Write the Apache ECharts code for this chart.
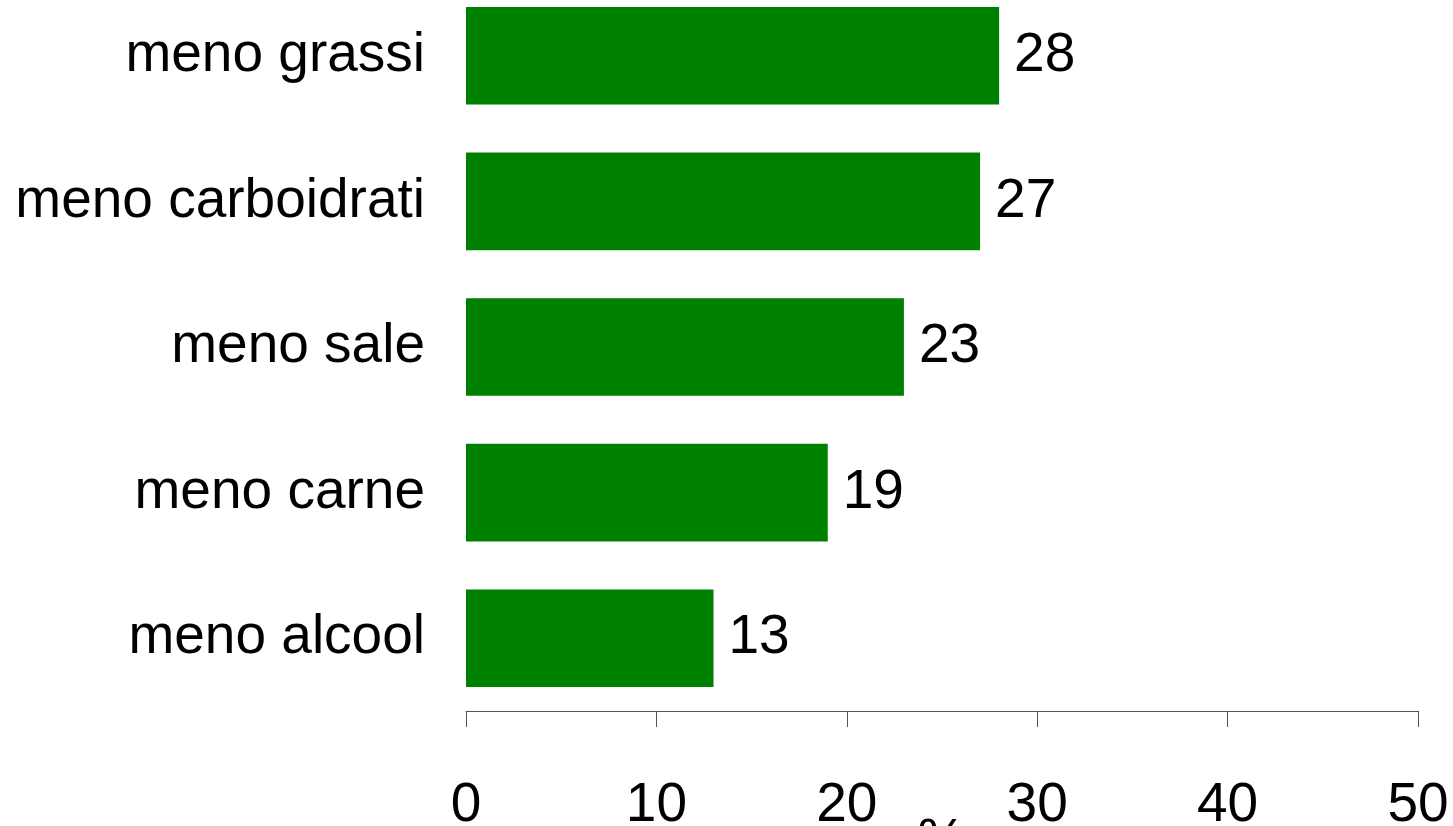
<!DOCTYPE html>
<html>
<head>
<meta charset="utf-8">
<script src="https://cdn.jsdelivr.net/npm/echarts@6/dist/echarts.min.js"></script>
<style>
  html, body { margin: 0; padding: 0; background: #fff; }
  #chart { width: 1453px; height: 826px; }
</style>
</head>
<body>
<div id="chart"></div>
<script>
// Categories listed bottom to top (category axis runs upward)
const categories = ['meno alcool', 'meno carne', 'meno sale', 'meno carboidrati', 'meno grassi'];
const values = [13, 19, 23, 27, 28];
const xTicks = [0, 10, 20, 30, 40, 50];

const FONT = '"Liberation Sans", Arial, sans-serif';
const chart = echarts.init(document.getElementById('chart'), null, { renderer: 'canvas' });

chart.setOption({
  animation: false,
  backgroundColor: '#ffffff',
  grid: {
    left: 466, right: 35, top: -17, bottom: 115,
    containLabel: false,
    outerBoundsMode: 'none'
  },
  xAxis: {
    type: 'value',
    min: xTicks[0],
    max: xTicks[xTicks.length - 1],
    interval: 10,
    name: '%',
    nameLocation: 'middle',
    nameGap: 103,
    nameMoveOverlap: false,
    nameTextStyle: { fontFamily: FONT, fontSize: 55, color: '#000' },
    axisLine: { show: true, lineStyle: { color: '#555', width: 1 } },
    axisTick: { show: true, length: 16, lineStyle: { color: '#555', width: 1 } },
    axisLabel: { fontFamily: FONT, fontSize: 55, color: '#000', margin: 67 },
    splitLine: { show: false }
  },
  yAxis: {
    type: 'category',
    data: categories,
    axisLine: { show: false },
    axisTick: { show: false },
    axisLabel: { fontFamily: FONT, fontSize: 55, color: '#000', margin: 41 }
  },
  series: [{
    type: 'bar',
    data: values,
    barCategoryGap: '33%',
    itemStyle: { color: '#008000' },
    label: {
      show: true,
      position: 'right',
      distance: 15,
      fontFamily: FONT,
      fontSize: 55,
      color: '#000'
    }
  }]
});
</script>
</body>
</html>
